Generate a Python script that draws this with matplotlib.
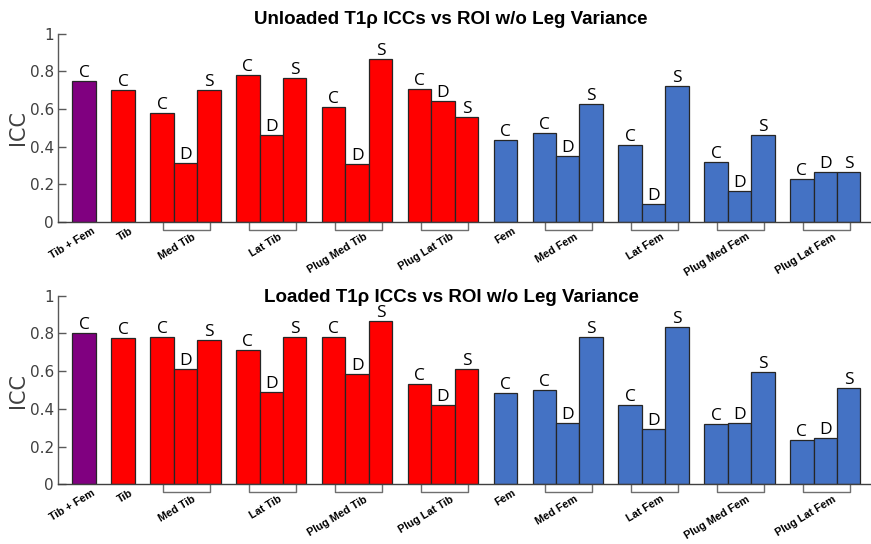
import numpy as np
import matplotlib
matplotlib.use("Agg")
import matplotlib.pyplot as plt

# ROI categories and the ICC letters shown above each bar
regions = ["Tib + Fem", "Tib", "Med Tib", "Lat Tib", "Plug Med Tib", "Plug Lat Tib",
           "Fem", "Med Fem", "Lat Fem", "Plug Med Fem", "Plug Lat Fem"]
letters = [["C"], ["C"], ["C", "D", "S"], ["C", "D", "S"], ["C", "D", "S"], ["C", "D", "S"],
           ["C"], ["C", "D", "S"], ["C", "D", "S"], ["C", "D", "S"], ["C", "D", "S"]]
region_colors = ["#800080", "#FF0000", "#FF0000", "#FF0000", "#FF0000", "#FF0000",
                 "#4472C4", "#4472C4", "#4472C4", "#4472C4", "#4472C4"]

unloaded = [[0.75], [0.70], [0.577, 0.313, 0.70], [0.782, 0.464, 0.766],
            [0.612, 0.31, 0.866], [0.705, 0.644, 0.559], [0.437],
            [0.471, 0.349, 0.625], [0.407, 0.096, 0.721], [0.319, 0.165, 0.464],
            [0.227, 0.266, 0.266]]
loaded = [[0.802], [0.774], [0.779, 0.61, 0.765], [0.71, 0.489, 0.783],
          [0.783, 0.587, 0.866], [0.53, 0.419, 0.61], [0.486],
          [0.498, 0.323, 0.783], [0.42, 0.292, 0.836], [0.318, 0.327, 0.594],
          [0.235, 0.244, 0.509]]

titles = ["Unloaded T1\u03c1 ICCs vs ROI w/o Leg Variance",
          "Loaded T1\u03c1 ICCs vs ROI w/o Leg Variance"]

bar_w = 1.0
gap = 0.66

# bar left edges, group by group
lefts = []
pos = 0.0
for lt in letters:
    lefts.append([pos + i * bar_w for i in range(len(lt))])
    pos += len(lt) * bar_w + gap
xmax = pos - gap

fig = plt.figure(figsize=(8.71, 5.44), dpi=100)
ax_top = fig.add_axes([0.0669, 0.5919, 0.9331, 0.3461])
ax_bot = fig.add_axes([0.0669, 0.1097, 0.9331, 0.3467])

axis_gray = "#595959"

def draw_panel(ax, data, title, title_y):
    for k, vals in enumerate(data):
        xs = np.array(lefts[k])
        ax.bar(xs, vals, width=bar_w, align="edge", color=region_colors[k],
               edgecolor="#262626", linewidth=0.9, zorder=2)
        for x, v, lt in zip(xs, vals, letters[k]):
            ax.annotate(lt, (x + bar_w / 2, v), xytext=(0, 0), textcoords="offset points",
                        ha="center", va="bottom", fontsize=12.5, family="Open Sans",
                        color="black", annotation_clip=False)
        center = xs.mean() + bar_w / 2
        if len(vals) > 1:
            bx = [center - 0.95, center - 0.95, center + 1.05, center + 1.05]
            by = [0, -0.04, -0.04, 0]
            ax.plot(bx, by, color="#6f6f6f", linewidth=1.0, clip_on=False, zorder=1)
            dy = -7
        else:
            dy = -2.5
        ax.annotate(regions[k], (center, 0), xytext=(5, dy), textcoords="offset points",
                    ha="right", va="top", rotation=31, rotation_mode="anchor",
                    fontsize=7.8, fontweight="bold", family="Liberation Sans",
                    annotation_clip=False)

    ax.set_xlim(-0.6, xmax + 0.45)
    ax.set_ylim(0, 1)
    ax.set_yticks([0, 0.2, 0.4, 0.6, 0.8, 1])
    ax.set_yticklabels(["0", "0.2", "0.4", "0.6", "0.8", "1"])
    ax.set_xticks([])
    ax.tick_params(axis="y", direction="in", length=6, width=1, color=axis_gray,
                   labelsize=11, labelcolor="#404040", pad=3)
    for s in ["top", "right"]:
        ax.spines[s].set_visible(False)
    ax.spines["left"].set_color(axis_gray)
    ax.spines["bottom"].set_color("#404040")
    ax.spines["left"].set_linewidth(1)
    ax.spines["bottom"].set_linewidth(1)
    ax.set_ylabel("ICC", fontsize=15, color="#404040", labelpad=1)
    fig.text(0.518, title_y, title, ha="center", va="center", fontsize=13.5,
             fontweight="bold", family="Liberation Sans")

draw_panel(ax_top, unloaded, titles[0], 1 - 19 / 544)
draw_panel(ax_bot, loaded, titles[1], 1 - 297 / 544)

fig.savefig("out.png", dpi=100)
